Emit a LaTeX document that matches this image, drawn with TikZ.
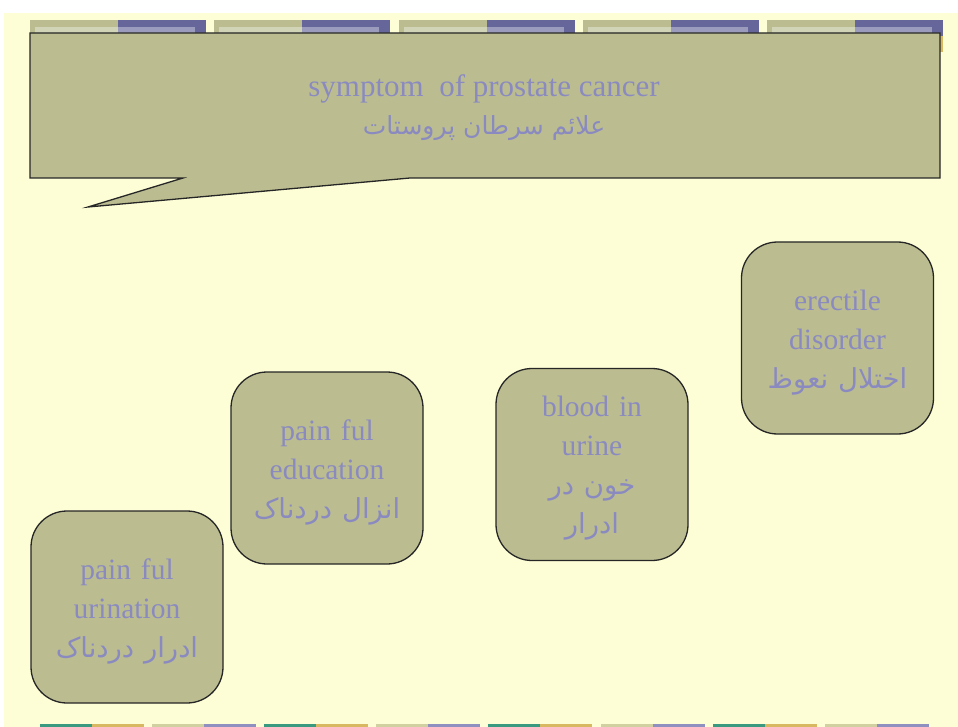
\documentclass[tikz,border=0pt]{standalone}
\usepackage{fontspec}
\setmainfont{Liberation Serif}
\newfontfamily\arabicfont[Script=Arabic]{DejaVu Sans}
\TeXXeTstate=1
\definecolor{bgyel}{HTML}{FDFDD6}
\definecolor{olive}{HTML}{BBBD91}
\definecolor{tileblue}{HTML}{66669A}
\definecolor{txt}{HTML}{8A8AC0}
\definecolor{teal}{HTML}{3A9A80}
\definecolor{gold}{HTML}{D8B860}
\definecolor{lolive}{HTML}{D0D0A0}
\definecolor{lpurp}{HTML}{9090C0}
\tikzset{
  symbox/.style={draw=black!85, line width=1.3pt, fill=olive, rounded corners=36pt,
    minimum width=192pt, minimum height=192pt, inner sep=0pt},
  symtext/.style={text width=186pt, align=center,
    text=txt, font=\fontsize{29.5}{39}\selectfont, inner sep=0pt},
}
\newcommand{\ar}[1]{{\arabicfont\fontsize{27.5}{39}\selectfont\beginR #1\endR}}
\newcommand{\art}[1]{{\arabicfont\fontsize{25}{39}\selectfont\beginR #1\endR}}
\begin{document}
\begin{tikzpicture}[x=1pt,y=-1pt]
\useasboundingbox (0,0) rectangle (958,727);
\fill[white] (0,0) rectangle (958,727);
\fill[bgyel] (4,13) rectangle (958,727);
% top tiles
\foreach \i in {0,...,4}{
  \pgfmathsetmacro{\xa}{30+\i*184.25}
  \fill[olive] (\xa,20) rectangle ++(88,16);
  \fill[tileblue] (\xa+88,20) rectangle ++(88,16);
  \fill[white,opacity=0.35] (\xa+5,27) rectangle ++(160,6);
}
\fill[gold] (940,36) rectangle (943,52);
% bottom tiles
\foreach \i in {0,...,7}{
  \pgfmathsetmacro{\xa}{40+\i*112.1}
  \pgfmathtruncatemacro{\m}{mod(\i,2)}
  \ifnum\m=0
    \fill[teal] (\xa,724) rectangle ++(52,4);
    \fill[gold] (\xa+52,724) rectangle ++(52,4);
  \else
    \fill[lolive] (\xa,724) rectangle ++(52,4);
    \fill[lpurp] (\xa+52,724) rectangle ++(52,4);
  \fi
}
% callout
\draw[draw=black!85, line width=1.3pt, fill=olive, line join=miter]
  (30,33) -- (940,33) -- (940,178) -- (410,178) -- (88,207) -- (183,178) -- (30,178) -- cycle;
\node[text=txt, align=center, font=\fontsize{31}{38}\selectfont] (title) at (484,108)
  {symptom\ \ of prostate\ cancer\\ \art{علائم سرطان پروستات}};
% boxes
\node[symbox] (b1) at (127,607) {};
\node[symbox] (b2) at (327,468) {};
\node[symbox] (b3) at (592,464.5) {};
\node[symbox] (b4) at (837.5,338) {};
\node[symtext] (t1) at ([yshift=-4pt]b1.center) {pain\ ful\\urination\\ \ar{ادرار دردناک}};
\node[symtext] (t2) at ([yshift=-4pt]b2.center) {pain\ ful\\education\\ \ar{انزال دردناک}};
\node[symtext] (t3) at ([yshift=-4pt]b3.center) {blood in\\urine\\ \ar{خون در}\\ \ar{ادرار}};
\node[symtext] (t4) at ([yshift=-5pt]b4.center) {erectile\\disorder\\ \ar{اختلال نعوظ}};
\end{tikzpicture}
\end{document}
